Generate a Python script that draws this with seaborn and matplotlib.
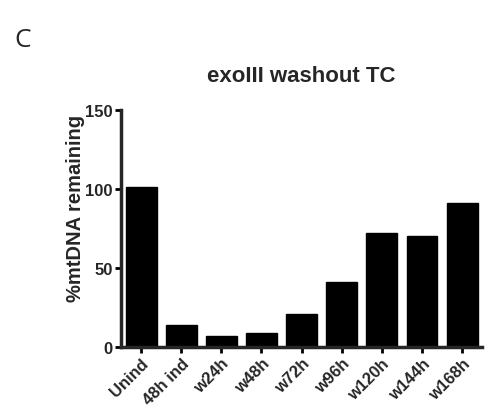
import matplotlib
matplotlib.use("Agg")
import matplotlib.pyplot as plt
import seaborn as sns
import pandas as pd

categories = ["Unind", "48h ind", "w24h", "w48h", "w72h", "w96h", "w120h", "w144h", "w168h"]
values = [101, 14, 7, 9, 21, 41, 72, 70, 91]
yticks = [0, 50, 100, 150]

sns.set_style("ticks")
plt.rcParams['font.family'] = ['Liberation Sans', 'DejaVu Sans']

df = pd.DataFrame({"cond": categories, "val": values})

fig = plt.figure(figsize=(4.9, 4.1), dpi=100)
ax = fig.add_axes([0.247, 0.151, 0.737, 0.579])
sns.barplot(data=df, x="cond", y="val", color="black", width=0.77,
            edgecolor="black", saturation=1, ax=ax)
ax.set_xlim(-0.5, 8.5)
ax.set_ylim(0, 150)
ax.set_yticks(yticks)
ax.set_yticklabels([str(t) for t in yticks], fontsize=12, fontweight="bold")
ax.set_xticks(range(len(categories)))
ax.set_xticklabels(categories, rotation=45, ha="right", rotation_mode="anchor",
                   fontsize=12, fontweight="bold")
ax.set_xlabel("")
ax.set_ylabel("%mtDNA remaining", fontsize=14.5, fontweight="bold")
ax.yaxis.set_label_coords(-0.10, 0.59)
ax.set_title("exoIII washout TC", fontsize=16, fontweight="bold", pad=21)
for s in ["top", "right"]:
    ax.spines[s].set_visible(False)
for s in ["left", "bottom"]:
    ax.spines[s].set_linewidth(2.5)
ax.tick_params(axis="both", width=2, length=4, pad=2, color="black")
fig.text(0.03, 0.885, "C", fontsize=19, fontfamily=["Open Sans", "DejaVu Sans"])
fig.savefig("out.png", dpi=100)
